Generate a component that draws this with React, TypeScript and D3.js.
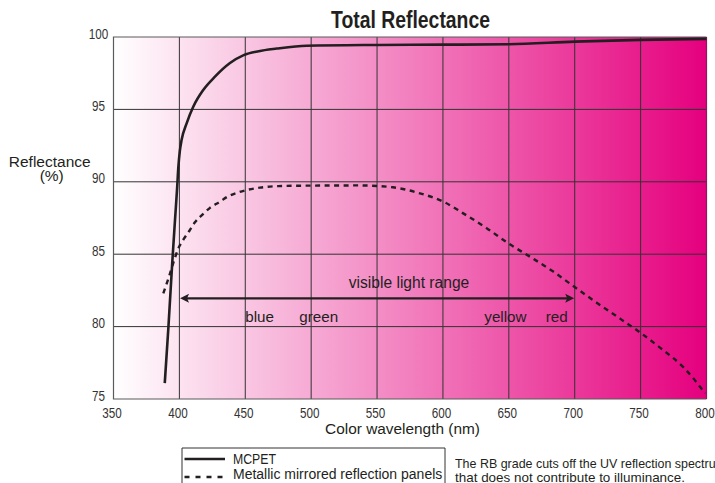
import * as d3 from "d3"

// MCPET total reflectance (solid)
const mcpetWave = [388.9, 391.7, 394.5, 396.7, 398.3, 399.2, 400.3, 401.7, 405.5, 410.6, 418.1, 427, 438.4, 448.8, 460.2, 473.8, 496.6, 550, 600, 650, 700, 750, 800]
const mcpetRefl = [76.1, 80, 84.3, 87.4, 89.6, 91, 92.1, 92.9, 94.04, 95.2, 96.34, 97.26, 98.2, 98.75, 99.02, 99.2, 99.4, 99.45, 99.47, 99.5, 99.68, 99.8, 99.87]

// Metallic mirrored reflection panels (dashed)
const metalWave = [387.8, 391.6, 395.4, 399.2, 403, 407.5, 411.8, 417.7, 423.2, 430.3, 437.1, 444.7, 451, 461.2, 475, 491.5, 537, 562, 582.6, 600.3, 615.4, 633.2, 649.6, 666, 683.7, 699.7, 716.7, 734.4, 749.5, 764.7, 782.4, 799]
const metalRefl = [82.3, 83.3, 84.4, 85.4, 86.0, 86.6, 87.2, 87.75, 88.2, 88.6, 89.0, 89.27, 89.43, 89.6, 89.7, 89.73, 89.75, 89.62, 89.2, 88.63, 87.82, 86.8, 85.75, 84.83, 83.8, 82.75, 81.65, 80.55, 79.6, 78.55, 77.2, 75.4]

const xTicks = [350, 400, 450, 500, 550, 600, 650, 700, 750, 800]
const yTicks = [75, 80, 85, 90, 95, 100]

const rangeStart = 400.5
const rangeEnd = 699.6
const rangeLevel = 81.95
const colorNames = ["blue", "green", "yellow", "red"]
const colorWaves = [450, 491, 631.4, 678]

const width = 715
const height = 483
const margin = { top: 37, right: 8.5, bottom: 84, left: 113.5 }

const sans = "'Liberation Sans', Arial, Helvetica, sans-serif"

export default function App() {
  const x = d3.scaleLinear().domain([350, 800]).range([margin.left, width - margin.right])
  const y = d3.scaleLinear().domain([75, 100]).range([height - margin.bottom, margin.top])

  const line = d3
    .line<[number, number]>()
    .x((d) => x(d[0]))
    .y((d) => y(d[1]))
    .curve(d3.curveMonotoneX)

  const mcpet = mcpetWave.map((w, i) => [w, mcpetRefl[i]] as [number, number])
  const metal = metalWave.map((w, i) => [w, metalRefl[i]] as [number, number])

  const [x0, x1] = x.range()
  const [yb, yt] = y.range()
  const ay = y(rangeLevel)
  const ax0 = x(rangeStart)
  const ax1 = x(rangeEnd)

  return (
    <svg
      width={width}
      height={height}
      style={{ position: "absolute", left: 0, top: 0, background: "#fff" }}
    >
      <defs>
        <linearGradient id="bg" x1="0" y1="0" x2="1" y2="0">
          <stop offset="0%" stopColor="#ffffff" />
          <stop offset="100%" stopColor="#e5007e" />
        </linearGradient>
      </defs>

      <text
        x={331}
        y={28.3}
        textLength={159}
        lengthAdjust="spacingAndGlyphs"
        fontFamily={sans}
        fontWeight="bold"
        fontSize={23}
        fill="#231f20"
      >
        Total Reflectance
      </text>

      <rect x={x0} y={yt} width={x1 - x0} height={yb - yt} fill="url(#bg)" />

      {/* grid */}
      {xTicks.slice(1, -1).map((t) => (
        <line key={"gx" + t} x1={x(t)} x2={x(t)} y1={yt} y2={yb} stroke="#333" strokeWidth={1} />
      ))}
      {yTicks.slice(1, -1).map((t) => (
        <line key={"gy" + t} x1={x0} x2={x1} y1={y(t)} y2={y(t)} stroke="#333" strokeWidth={1} />
      ))}
      <path d={`M${x1},${yt}H${x0}V${yb}H${x1}`} fill="none" stroke="#5a5a5a" strokeWidth={1.2} />
      <line x1={x1} x2={x1} y1={yt} y2={yb} stroke="#8c1a5c" strokeWidth={1.2} />

      {/* tick labels */}
      {yTicks.map((t) => (
        <text
          key={"ty" + t}
          x={98.5 - String(t).length * 3.25}
          y={y(t) + 1.5}
          textLength={String(t).length * 6.5}
          lengthAdjust="spacingAndGlyphs"
          fontFamily={sans}
          fontSize={14}
          fill="#333"
        >
          {t}
        </text>
      ))}
      {xTicks.map((t) => (
        <text
          key={"tx" + t}
          x={x(t) - 1.5 - 9.75}
          y={418.3}
          textLength={19.5}
          lengthAdjust="spacingAndGlyphs"
          fontFamily={sans}
          fontSize={14}
          fill="#333"
        >
          {t}
        </text>
      ))}

      <text x={49.7} y={166.7} textAnchor="middle" fontFamily={sans} fontSize={15.5} fill="#231f20">
        Reflectance
      </text>
      <text x={51.7} y={181} textAnchor="middle" fontFamily={sans} fontSize={15.5} fill="#231f20">
        (%)
      </text>
      <text x={402.5} y={433.5} textAnchor="middle" fontFamily={sans} fontSize={15.4} fill="#231f20">
        Color wavelength (nm)
      </text>

      {/* curves */}
      <path d={line(metal) ?? ""} fill="none" stroke="#231f20" strokeWidth={2.4} strokeDasharray="5,4.5" />
      <path d={line(mcpet) ?? ""} fill="none" stroke="#231f20" strokeWidth={2.6} />

      {/* visible light range arrow */}
      <line x1={ax0 + 6} x2={ax1 - 6} y1={ay} y2={ay} stroke="#231f20" strokeWidth={2.2} />
      <path d={`M${ax0},${ay}L${ax0 + 9},${ay - 4.5}L${ax0 + 7},${ay}L${ax0 + 9},${ay + 4.5}Z`} fill="#231f20" />
      <path d={`M${ax1},${ay}L${ax1 - 9},${ay - 4.5}L${ax1 - 7},${ay}L${ax1 - 9},${ay + 4.5}Z`} fill="#231f20" />
      <text x={409} y={288.3} textAnchor="middle" fontFamily={sans} fontSize={15.6} fill="#231f20">
        visible light range
      </text>
      {colorNames.map((n, i) => (
        <text key={n} x={x(colorWaves[i])} y={321.7} fontFamily={sans} fontSize={15.2} fill="#231f20">
          {n}
        </text>
      ))}

      {/* legend */}
      <path d={`M182,490V448H445V490`} fill="none" stroke="#333" strokeWidth={1} />
      <line x1={184.5} x2={225} y1={459} y2={459} stroke="#231f20" strokeWidth={2.4} />
      <line x1={184.5} x2={225} y1={477} y2={477} stroke="#231f20" strokeWidth={2.4} strokeDasharray="5,6" />
      <text
        x={233}
        y={464}
        textLength={43}
        lengthAdjust="spacingAndGlyphs"
        fontFamily={sans}
        fontSize={14.5}
        fill="#231f20"
      >
        MCPET
      </text>
      <text x={233} y={478.5} fontFamily={sans} fontSize={14} fill="#231f20">
        Metallic mirrored reflection panels
      </text>

      <text
        x={455}
        y={467.5}
        textLength={271}
        lengthAdjust="spacingAndGlyphs"
        fontFamily={sans}
        fontSize={13.4}
        fill="#231f20"
      >
        The RB grade cuts off the UV reflection spectrum
      </text>
      <text
        x={455}
        y={481.5}
        textLength={230}
        lengthAdjust="spacingAndGlyphs"
        fontFamily={sans}
        fontSize={13.4}
        fill="#231f20"
      >
        that does not contribute to illuminance.
      </text>
    </svg>
  )
}
